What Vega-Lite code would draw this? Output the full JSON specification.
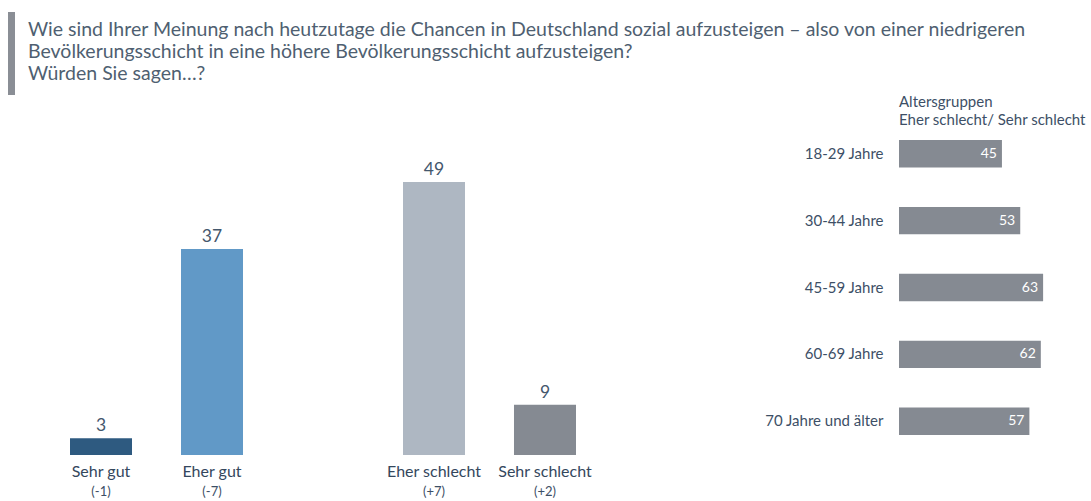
{
  "$schema": "https://vega.github.io/schema/vega-lite/v6.json",
  "padding": {"left": 8, "top": 12, "right": 0, "bottom": 0},
  "background": "white",
  "config": {"view": {"stroke": null}, "font": "Lato", "concat": {"spacing": 0}},
  "datasets": {
    "header": [
      {"line": 1, "text": "Wie sind Ihrer Meinung nach heutzutage die Chancen in Deutschland sozial aufzusteigen – also von einer niedrigeren"},
      {"line": 2, "text": "Bevölkerungsschicht in eine höhere Bevölkerungsschicht aufzusteigen?"},
      {"line": 3, "text": "Würden Sie sagen…?"}
    ],
    "main": [
      {"cat": "Sehr gut", "value": 3, "change": "(-1)"},
      {"cat": "Eher gut", "value": 37, "change": "(-7)"},
      {"cat": "Eher schlecht", "value": 49, "change": "(+7)"},
      {"cat": "Sehr schlecht", "value": 9, "change": "(+2)"}
    ],
    "age": [
      {"age": "18-29 Jahre", "value": 45},
      {"age": "30-44 Jahre", "value": 53},
      {"age": "45-59 Jahre", "value": 63},
      {"age": "60-69 Jahre", "value": 62},
      {"age": "70 Jahre und älter", "value": 57}
    ]
  },
  "spacing": 0,
  "vconcat": [
    {
      "width": 7,
      "height": 83,
      "resolve": {"scale": {"y": "independent"}},
      "layer": [
        {
          "data": {"values": [{"k": 1}]},
          "mark": {"type": "rect", "color": "#8a8e95"},
          "encoding": {
            "x": {"datum": 0, "type": "quantitative", "scale": {"domain": [0, 1], "nice": false}, "axis": null},
            "x2": {"datum": 1},
            "y": {"datum": 0, "type": "quantitative", "scale": {"domain": [0, 1], "nice": false}, "axis": null},
            "y2": {"datum": 1}
          }
        },
        {
          "data": {"name": "header"},
          "mark": {"type": "text", "align": "left", "baseline": "alphabetic", "dx": 13, "dy": 4.5, "fontSize": 19.5, "color": "#4f5f71"},
          "encoding": {
            "x": {"datum": 1, "type": "quantitative"},
            "y": {"field": "line", "type": "ordinal", "sort": null, "scale": {"type": "point", "padding": 0.886}, "axis": null},
            "text": {"field": "text"}
          }
        }
      ]
    },
    {
      "spacing": 96,
      "hconcat": [
        {
          "width": 630,
          "height": 320,
          "data": {"name": "main"},
          "encoding": {
            "x": {
              "field": "cat", "type": "nominal", "sort": null,
              "scale": {"domain": ["Sehr gut", "Eher gut", " ", "Eher schlecht", "Sehr schlecht"], "paddingInner": 0.4414, "paddingOuter": 0.5586},
              "axis": null
            }
          },
          "layer": [
            {
              "mark": {"type": "bar"},
              "encoding": {
                "y": {"field": "value", "type": "quantitative", "scale": {"domain": [0, 57.45], "nice": false}, "axis": null},
                "color": {"field": "cat", "type": "nominal", "scale": {"domain": ["Sehr gut", "Eher gut", "Eher schlecht", "Sehr schlecht"], "range": ["#2e5a80", "#6199c7", "#aeb7c2", "#858a92"]}, "legend": null}
              }
            },
            {
              "mark": {"type": "text", "baseline": "alphabetic", "dy": -7, "fontSize": 17.5, "color": "#44576d"},
              "encoding": {
                "y": {"field": "value", "type": "quantitative"},
                "text": {"field": "value", "type": "quantitative"}
              }
            },
            {
              "mark": {"type": "text", "baseline": "alphabetic", "dy": 21.7, "fontSize": 16, "color": "#34475d"},
              "encoding": {
                "y": {"datum": 0, "type": "quantitative"},
                "text": {"field": "cat", "type": "nominal"}
              }
            },
            {
              "mark": {"type": "text", "baseline": "alphabetic", "dy": 41, "fontSize": 13, "color": "#3d4f66"},
              "encoding": {
                "y": {"datum": 0, "type": "quantitative"},
                "text": {"field": "change", "type": "nominal"}
              }
            }
          ]
        },
        {
          "width": 183,
          "height": 305,
          "title": {"text": ["Altersgruppen", "Eher schlecht/ Sehr schlecht"], "anchor": "start", "frame": "group", "fontSize": 15, "fontWeight": "normal", "color": "#3d4f66", "lineHeight": 18, "offset": 7},
          "data": {"name": "age"},
          "encoding": {
            "y": {
              "field": "age", "type": "nominal", "sort": null,
              "scale": {"paddingInner": 0.589, "paddingOuter": 0.075},
              "axis": {"title": null, "domain": false, "ticks": false, "labelFontSize": 15, "labelColor": "#3d4f66", "labelPadding": 16, "minExtent": 165, "maxExtent": 165}
            }
          },
          "layer": [
            {
              "mark": {"type": "bar", "color": "#858a92"},
              "encoding": {
                "x": {"field": "value", "type": "quantitative", "scale": {"domain": [0, 80], "nice": false}, "axis": null}
              }
            },
            {
              "mark": {"type": "text", "align": "right", "dx": -5, "color": "white", "fontSize": 14},
              "encoding": {
                "x": {"field": "value", "type": "quantitative"},
                "text": {"field": "value", "type": "quantitative"}
              }
            }
          ]
        }
      ]
    }
  ]
}
